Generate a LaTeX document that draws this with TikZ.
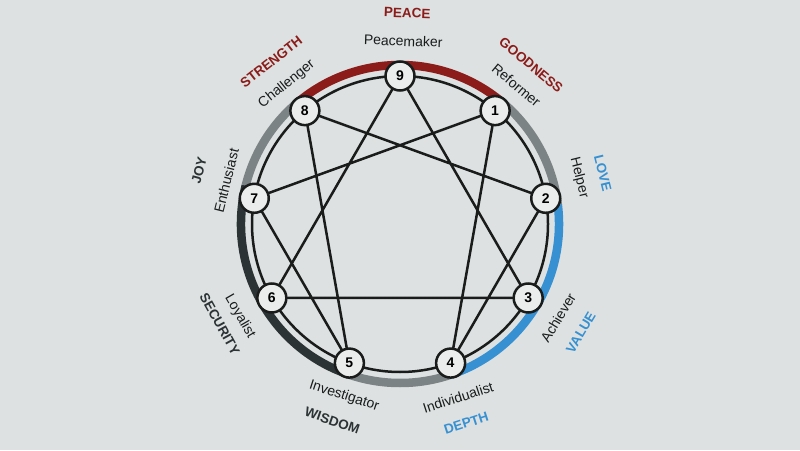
\documentclass[tikz,border=0pt]{standalone}
\usepackage{fontspec}
\setmainfont{Liberation Sans}
\definecolor{bg}{HTML}{DDE1E1}
\definecolor{cred}{HTML}{8B1C1A}
\definecolor{cblue}{HTML}{3690D2}
\definecolor{cdark}{HTML}{2C3335}
\definecolor{cgray}{HTML}{7C8385}
\definecolor{ink}{HTML}{1A1C1C}
\begin{document}
\begin{tikzpicture}[x=1pt,y=1pt,
  num/.style={circle,draw=ink,line width=2.5pt,fill=bg!60!white,minimum size=29pt,inner sep=0pt,font=\fontsize{14}{14}\selectfont\bfseries},
  lab/.style={font=\fontsize{14}{14}\selectfont,text=ink,inner sep=1pt},
  cat/.style={font=\fontsize{13.5}{14}\selectfont\bfseries,inner sep=1pt},
  ring/.style={line width=8.5pt},
  edge/.style={draw=ink,line width=2.5pt}]
\fill[bg] (0,0) rectangle (800,450);
\useasboundingbox (0,0) rectangle (800,450);
\begin{scope}[shift={(400,226)}]
\coordinate (c) at (0,0);
% ring arcs
\draw[ring,cred] (130:159) arc[start angle=130,end angle=50,radius=159];
\draw[ring,cgray] (50:159) arc[start angle=50,end angle=7,radius=159];
\draw[ring,cblue] (7:159) arc[start angle=7,end angle=-72,radius=159];
\draw[ring,cgray] (-72:159) arc[start angle=-72,end angle=-108,radius=159];
\draw[ring,cdark] (-108:159) arc[start angle=-108,end angle=-194,radius=159];
\draw[ring,cgray] (166:159) arc[start angle=166,end angle=130,radius=159];
\draw[edge] (c) circle[radius=148];
% nodes
\foreach \k in {1,...,9}{
  \coordinate (p\k) at ({90-40*\k}:148);
}
\draw[edge] (p1)--(p4) (p4)--(p2) (p2)--(p8) (p8)--(p5) (p5)--(p7) (p7)--(p1)
  (p9)--(p3) (p3)--(p6) (p6)--(p9);
\foreach \k in {1,...,9}{
  \node[num] (n\k) at (p\k) {\k};
}
% names
\node[lab,rotate=-2] (t9) at (89:183) {Peacemaker};
\node[lab,rotate=-40] (t1) at (50:181) {Reformer};
\node[lab,rotate=-76] (t2) at (14.5:185) {Helper};
\node[lab,rotate=59] (t3) at (-30.7:184) {Achiever};
\node[lab,rotate=18] (t4) at (-71.5:183) {Individualist};
\node[lab,rotate=-18] (t5) at (-108:181) {Investigator};
\node[lab,rotate=-60] (t6) at (-150:185) {Loyalist};
\node[lab,rotate=76] (t7) at (166:179) {Enthusiast};
\node[lab,rotate=39] (t8) at (129:180) {Challenger};
% categories
\node[cat,cred,rotate=-2] (k9) at (88:211) {PEACE};
\node[cat,cred,rotate=-40] (k1) at (50.5:206) {GOODNESS};
\node[cat,cblue,rotate=-76] (k2) at (14:209) {LOVE};
\node[cat,cblue,rotate=59] (k3) at (-31:211) {VALUE};
\node[cat,cblue,rotate=18] (k4) at (-71.6:210) {DEPTH};
\node[cat,cdark,rotate=-19] (k5) at (-109:208) {WISDOM};
\node[cat,cdark,rotate=-61] (k6) at (-151:206) {SECURITY};
\node[cat,cdark,rotate=75] (k7) at (165:208) {JOY};
\node[cat,cred,rotate=38] (k8) at (128.5:207) {STRENGTH};
\end{scope}
\end{tikzpicture}
\end{document}
